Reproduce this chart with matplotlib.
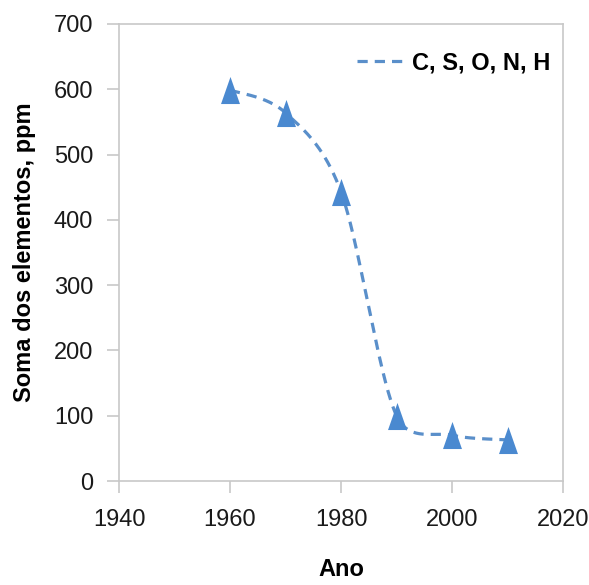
import numpy as np
import matplotlib
matplotlib.use("Agg")
import matplotlib.pyplot as plt
from matplotlib.path import Path

years = [1960, 1970, 1980, 1990, 2000, 2010]
values = [599, 564, 443, 100, 70, 63]
series_label = "C, S, O, N, H"
xticks = [1940, 1960, 1980, 2000, 2020]
yticks = [0, 100, 200, 300, 400, 500, 600, 700]

plt.rcParams['font.family'] = ['Liberation Sans', 'DejaVu Sans']


def excel_smooth(P, n=60):
    """Excel-style smoothed line (Bezier with capped 1/6 tension), in pixel space."""
    P = np.asarray(P, float)
    out = []
    m = len(P)
    for i in range(m - 1):
        p0 = P[i - 1] if i > 0 else P[i]
        p1 = P[i]
        p2 = P[i + 1]
        p3 = P[i + 2] if i + 2 < m else P[i + 1]
        d12 = np.linalg.norm(p2 - p1)
        d02 = np.linalg.norm(p2 - p0)
        d13 = np.linalg.norm(p3 - p1)
        f1 = 1 / 6 if (d02 / 6 < d12 / 2 or d02 == 0) else d12 / 2 / d02
        f2 = 1 / 6 if (d13 / 6 < d12 / 2 or d13 == 0) else d12 / 2 / d13
        c1 = p1 + (p2 - p0) * f1
        c2 = p2 - (p3 - p1) * f2
        t = np.linspace(0, 1, n)[:, None]
        seg = ((1 - t) ** 3) * p1 + 3 * ((1 - t) ** 2) * t * c1 + 3 * (1 - t) * t ** 2 * c2 + t ** 3 * p2
        out.append(seg if i == 0 else seg[1:])
    return np.vstack(out)


fig = plt.figure(figsize=(5.89, 5.85), dpi=100)
ax = fig.add_axes([119 / 589, 1 - 481 / 585, (563 - 119) / 589, (481 - 24) / 585])
ax.set_xlim(1940, 2020)
ax.set_ylim(0, 700)

pix = ax.transData.transform(np.column_stack([years, values]))
curve = ax.transData.inverted().transform(excel_smooth(pix))

line_color = '#5a8fca'
marker_color = '#4a89d0'
ax.plot(curve[:, 0], curve[:, 1], color=line_color, lw=2.3, dashes=(3.2, 2.2),
        label=series_label, zorder=2)
tri = Path([(0, 1), (-0.7, -1), (0.7, -1), (0, 1)],
           [Path.MOVETO, Path.LINETO, Path.LINETO, Path.CLOSEPOLY])
ax.plot(years, values, linestyle='none', marker=tri, markersize=19.5,
        color=marker_color, markeredgewidth=0, zorder=3)

ax.set_xticks(xticks)
ax.set_yticks(yticks)
for s in ax.spines.values():
    s.set_color('#c8c8c8')
    s.set_linewidth(1.2)
ax.tick_params(axis='both', direction='out', length=8.5, width=1.2, color='#c8c8c8',
               labelsize=17, labelcolor='#1a1a1a')
ax.tick_params(axis='x', pad=12)
ax.tick_params(axis='y', pad=10)

ax.set_xlabel('Ano', fontsize=17, fontweight='bold', labelpad=19)
ax.set_ylabel('Soma dos elementos, ppm', fontsize=17, fontweight='bold', labelpad=13)

leg = ax.legend(loc='center right', frameon=False, handlelength=1.9, handletextpad=0.42,
                prop={'weight': 'bold', 'size': 17}, borderpad=0, borderaxespad=0,
                bbox_to_anchor=((550 - 119) / 444, (481 - 63) / 457))

fig.savefig('out.png', dpi=100)
